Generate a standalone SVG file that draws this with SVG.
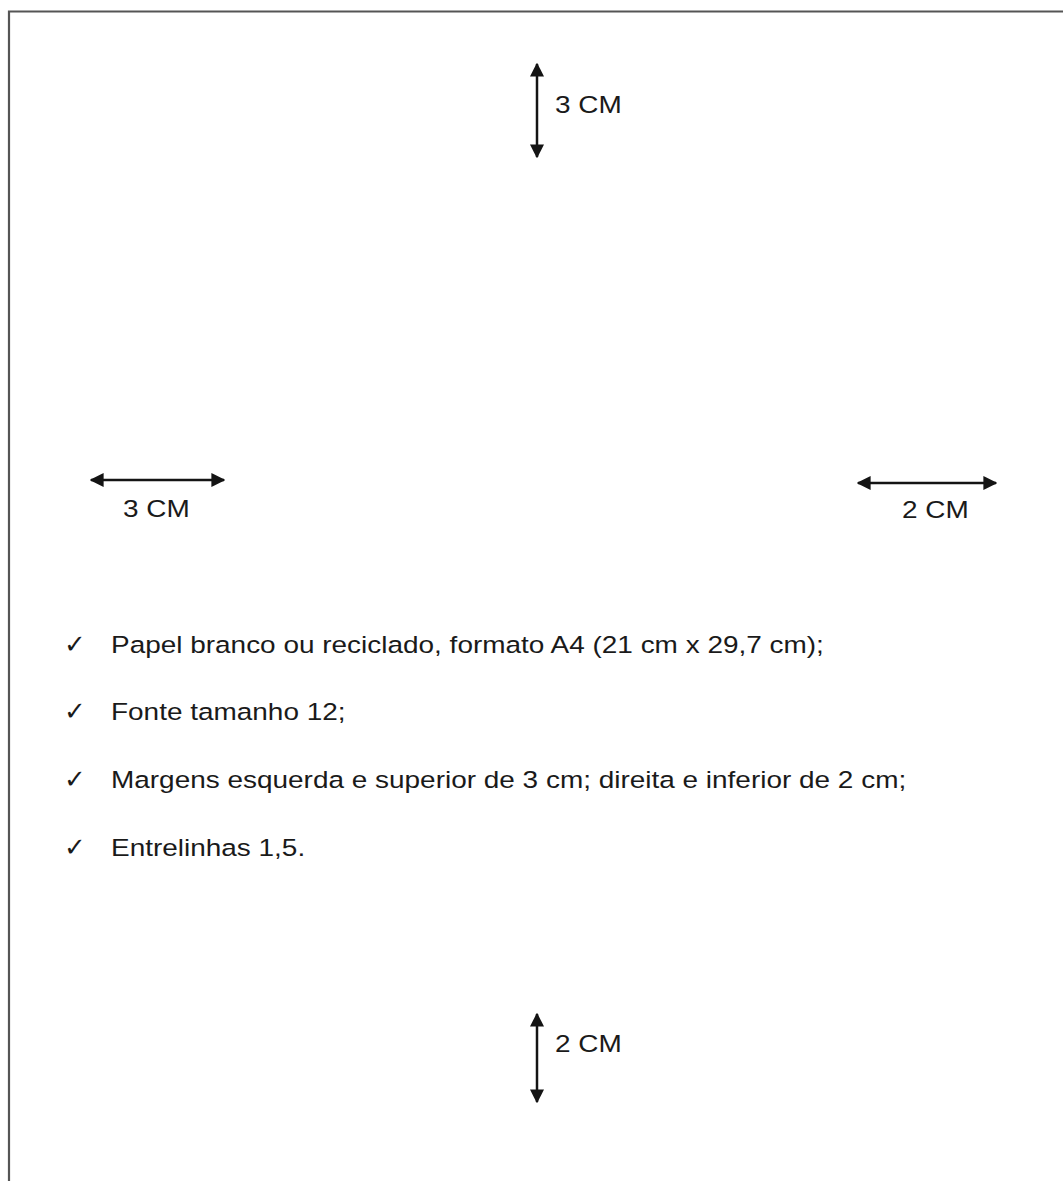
<svg xmlns="http://www.w3.org/2000/svg" width="1063" height="1181" viewBox="0 0 1063 1181">
<style>
.lbl{font-family:"Liberation Sans",Arial,sans-serif;font-size:23.3px;fill:#1a1a1a}
.txt{font-family:"Liberation Sans",Arial,sans-serif;font-size:23.3px;fill:#1a1a1a}
.chk{font-family:"DejaVu Sans",sans-serif;font-size:26px;fill:#1a1a1a}
.arr{stroke:#141414;stroke-width:2.5;fill:none;marker-start:url(#ah);marker-end:url(#ah)}
</style>
<defs>
<marker id="ah" viewBox="0 0 10 10" refX="9" refY="5" markerWidth="5.6" markerHeight="5.6" orient="auto-start-reverse" markerUnits="strokeWidth">
<path d="M0,0 L10,5 L0,10 Z" fill="#141414"/>
</marker>
</defs>
<rect width="1063" height="1181" fill="#fff"/>
<g id="page">
<path d="M9,1181 V11.5 H1063" fill="none" stroke="#555" stroke-width="2.2"/>
</g>
<g id="connectors">
<line class="arr" x1="537" y1="64" x2="537" y2="157"/>
<line class="arr" x1="91" y1="480" x2="224" y2="480"/>
<line class="arr" x1="858" y1="483" x2="996" y2="483"/>
<line class="arr" x1="537" y1="1014" x2="537" y2="1102"/>
</g>
<g id="top-label"><text class="lbl" transform="translate(555,113) scale(1.2,1)">3 CM</text></g>
<g id="left-label"><text class="lbl" transform="translate(123,517) scale(1.2,1)">3 CM</text></g>
<g id="right-label"><text class="lbl" transform="translate(902,518) scale(1.2,1)">2 CM</text></g>
<g id="bottom-label"><text class="lbl" transform="translate(555,1052) scale(1.2,1)">2 CM</text></g>
<g id="list">
<text class="chk" x="64" y="653">✓</text>
<text class="txt" transform="translate(111,653) scale(1.2,1)">Papel branco ou reciclado, formato A4 (21 cm x 29,7 cm);</text>
<text class="chk" x="64" y="720">✓</text>
<text class="txt" transform="translate(111,720) scale(1.2,1)">Fonte tamanho 12;</text>
<text class="chk" x="64" y="788">✓</text>
<text class="txt" transform="translate(111,788) scale(1.2,1)">Margens esquerda e superior de 3 cm; direita e inferior de 2 cm;</text>
<text class="chk" x="64" y="856">✓</text>
<text class="txt" transform="translate(111,856) scale(1.2,1)">Entrelinhas 1,5.</text>
</g>
</svg>
